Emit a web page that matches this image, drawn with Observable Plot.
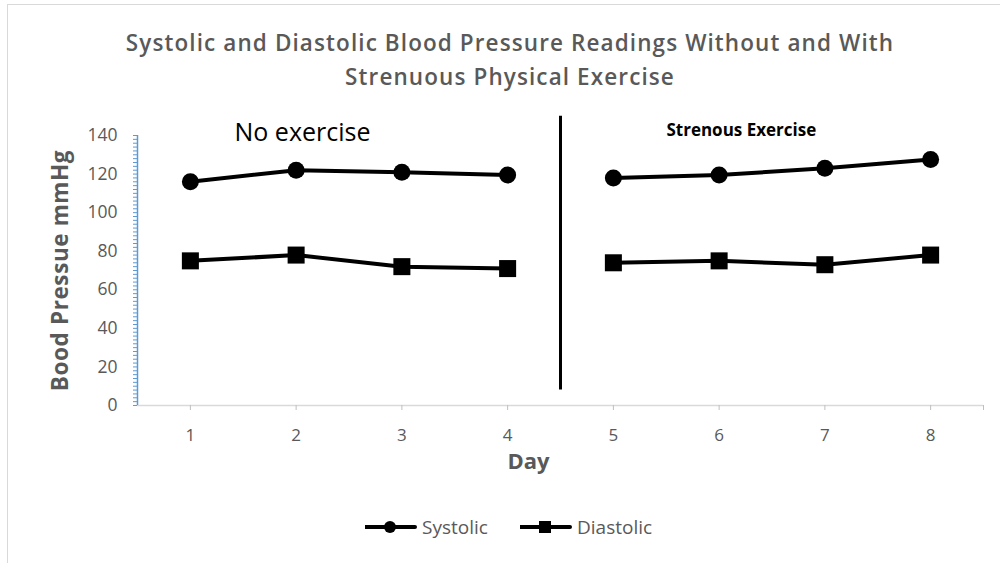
<!DOCTYPE html>
<html>
<head>
<meta charset="utf-8">
<script src="https://cdn.jsdelivr.net/npm/d3@7"></script>
<script src="https://cdn.jsdelivr.net/npm/@observablehq/plot@0.6"></script>
<style>
  html, body { margin: 0; padding: 0; background: #fff; }
  body { width: 1000px; height: 563px; position: relative; overflow: hidden; font-family: "Open Sans", sans-serif; }
  #frameL { position: absolute; left: 7px; top: 4px; width: 1px; height: 559px; background: #d9d9d9; }
  #frameT { position: absolute; left: 7px; top: 4px; width: 993px; height: 1px; background: #d9d9d9; }
  #title { position: absolute; left: 0; top: 26px; width: 1020px; text-align: center; color: #595959;
           font-weight: 600; font-size: 22.5px; letter-spacing: 1.1px; line-height: 34px; }
  #chart { position: absolute; left: 0; top: 100px; }
  #legend { position: absolute; left: 0; top: 490px; width: 1000px; height: 73px; }
  .lg { position: absolute; top: 24px; display: flex; align-items: center; color: #595959; font-size: 19px; }
  .lg svg { margin-right: 5px; }
  .ylab { letter-spacing: 0.6px; }
</style>
</head>
<body>
<div id="frameL"></div><div id="frameT"></div>
<div id="title"></div>
<div id="chart"></div>
<div id="legend"></div>
<script>
const titleLines = ["Systolic and  Diastolic Blood Pressure Readings Without and With", "Strenuous Physical Exercise"];
const days = [1, 2, 3, 4, 5, 6, 7, 8];
const periods = ["No exercise", "No exercise", "No exercise", "No exercise", "Strenous", "Strenous", "Strenous", "Strenous"];
const systolic = [116, 122, 121, 119.5, 118, 119.5, 123, 127.5];
const diastolic = [75, 78, 72, 71, 74, 75, 73, 78];
const seriesNames = ["Systolic", "Diastolic"];
const yTicks = [0, 20, 40, 60, 80, 100, 120, 140];
const xTicks = [1, 2, 3, 4, 5, 6, 7, 8];
const divider = [{x: 4.5, y1: 8, y2: 150}];
const annotations = [
  {x: 2.06, y: 141.5, text: "No exercise"},
  {x: 6.21, y: 142.6, text: "Strenous Exercise"}
];
const yLabel = "Bood Pressue mmHg";
const xLabel = "Day";

document.getElementById("title").innerHTML = titleLines.join("<br>");

const rows = [];
days.forEach((d, i) => {
  rows.push({day: d, value: systolic[i], series: "Systolic", period: periods[i]});
  rows.push({day: d, value: diastolic[i], series: "Diastolic", period: periods[i]});
});

const gray = "#595959";
const blue = "#5B9BD5";

const chart = Plot.plot({
  width: 1000,
  height: 390,
  marginTop: 35,
  marginBottom: 85,
  marginLeft: 137,
  marginRight: 17,
  style: {fontFamily: "'Open Sans', sans-serif", background: "transparent", overflow: "visible"},
  x: {domain: [0.5, 8.5], label: null},
  y: {domain: [0, 140], label: null},
  marks: [
    Plot.ruleY([0], {stroke: "#d9d9d9", strokeWidth: 1.5}),
    Plot.axisX({ticks: [...xTicks, 8.5], tickSize: 5, tickPadding: 18, stroke: "#bfbfbf",
                fill: gray, fontSize: 17, tickFormat: d => Number.isInteger(d) ? d : ""}),
    Plot.axisY({ticks: d3.range(0, 141, 2), tickSize: 4, stroke: blue, tickFormat: () => ""}),
    Plot.axisY({ticks: yTicks, tickSize: 0, tickPadding: 20, fill: gray, fontSize: 17.5}),
    Plot.ruleX([0.5], {stroke: blue, strokeWidth: 1.5}),
    Plot.ruleX(divider, {x: "x", y1: "y1", y2: "y2", stroke: "black", strokeWidth: 3}),
    Plot.line(rows, {x: "day", y: "value", z: d => d.series + d.period, stroke: "black", strokeWidth: 4}),
    Plot.dot(rows.filter(d => d.series === "Systolic"), {x: "day", y: "value", r: 8.5, symbol: "circle", fill: "black"}),
    Plot.dot(rows.filter(d => d.series === "Diastolic"), {x: "day", y: "value", r: 9.6, symbol: "square", fill: "black"}),
    Plot.text(annotations.slice(0, 1), {x: "x", y: "y", text: "text", fontSize: 25, fill: "black"}),
    Plot.text(annotations.slice(1), {x: "x", y: "y", text: "text", fontSize: 17, fontWeight: 700, fill: "black"}),
    Plot.text([yLabel], {frameAnchor: "left", textAnchor: "middle", rotate: -90, dx: -77, fontSize: 22.5, fontWeight: 700, fill: gray, className: "ylab"}),
    Plot.text([xLabel], {frameAnchor: "bottom", textAnchor: "middle", dx: -32, dy: 63, fontSize: 22, fontWeight: 700, fill: gray})
  ]
});
document.getElementById("chart").appendChild(chart);

// legend
const legend = document.getElementById("legend");
const lgDefs = [
  {name: seriesNames[0], left: 365, sym: "circle"},
  {name: seriesNames[1], left: 520, sym: "square"}
];
lgDefs.forEach(l => {
  const div = document.createElement("div");
  div.className = "lg";
  div.style.left = l.left + "px";
  const marker = l.sym === "circle"
    ? '<circle cx="25" cy="12" r="6" fill="black"/>'
    : '<rect x="19" y="6" width="12" height="12" fill="black"/>';
  div.innerHTML = `<svg width="52" height="24"><line x1="0" x2="50" y1="12" y2="12" stroke="black" stroke-width="4" stroke-linecap="round"/>${marker}</svg><span>${l.name}</span>`;
  legend.appendChild(div);
});
</script>
</body>
</html>
